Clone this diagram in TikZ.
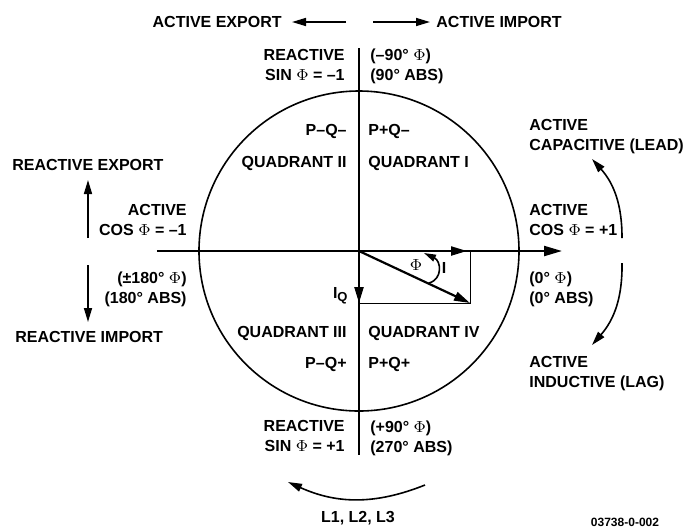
\documentclass[tikz,border=0pt]{standalone}
\usepackage{fontspec}
\setmainfont{Liberation Sans}
\usetikzlibrary{arrows.meta,positioning}

\begin{document}
\begin{tikzpicture}[
  x=0.5pt,y=0.5pt,
  lbl/.style={inner sep=0pt,font=\fontsize{8}{10}\selectfont\bfseries},
  lblr/.style={lbl,align=right,anchor=north east},
  lbll/.style={lbl,align=left,anchor=north west},
  axis/.style={line width=1.1pt},
  ring/.style={line width=0.8pt},
  box/.style={line width=0.5pt},
  vec/.style={line width=1.1pt,-{Triangle[length=8pt,width=4.5pt]}},
  dirarrow/.style={line width=0.8pt,-{Triangle[length=7pt,width=4pt]}}
]
\useasboundingbox (-359,-276) rectangle (325,251);
\coordinate (O) at (0,0);
\coordinate (axW) at (-202,0);
\coordinate (axE) at (203,0);
\coordinate (axN) at (0,203);
\coordinate (axS) at (0,-204);
\draw[ring] (O) circle[radius=160];
\draw[axis,-{Triangle[length=9pt,width=5pt]}] (axW) -- (axE);
\draw[ring] (axN) -- (axS);

\coordinate (P) at (111,0);
\coordinate (Q) at (0,-52);
\coordinate (S) at (111,-52);
\draw[box] (Q) -- (S) -- (P);
\draw[vec,shorten >=1.5pt] (O) -- (P);
\draw[vec] (O) -- (S);
\draw[vec] (O) -- (Q);
\coordinate (phiA) at (70,-32);
\coordinate (phiB) at (65,-2);
\draw[line width=0.8pt,-{Triangle[length=6pt,width=3.5pt]}]
  (phiA) .. controls (84,-28) and (82,-10) .. (phiB);
\node[lbl,font=\fontsize{8}{10}\selectfont] (phi) at (57,-14) {$\Phi$};
\node[lbl] (curr) at (85,-17) {I};
\node[lbl,anchor=east] (curq) at (-11,-45) {I\raisebox{-0.4ex}{\fontsize{6.5}{7}\selectfont Q}};

\node[lbl,anchor=east] (actexp) at (-77,229) {ACTIVE EXPORT};
\node[lbl,anchor=west] (actimp) at (77,229) {ACTIVE IMPORT};
\coordinate (expS) at (-13,229);
\coordinate (impS) at (14,229);
\draw[dirarrow,shorten >=5pt] (expS) -- (actexp);
\draw[dirarrow,shorten >=3pt] (impS) -- (actimp);

\node[lblr] (reacneg) at (-14,202) {REACTIVE\\SIN $\Phi$ = –1};
\node[lbll] (phineg) at (11,202) {(–90° $\Phi$)\\(90° ABS)};
\node[lblr] (pqmm) at (-12,127) {P–Q–};
\node[lbll] (pqpm) at (9,127) {P+Q–};
\node[lblr] (quadii) at (-12,95) {QUADRANT II};
\node[lbll] (quadi) at (9,95) {QUADRANT I};
\node[lblr] (quadiii) at (-12,-75) {QUADRANT III};
\node[lbll] (quadiv) at (9,-75) {QUADRANT IV};
\node[lblr] (pqmp) at (-12,-106) {P–Q+};
\node[lbll] (pqpp) at (9,-106) {P+Q+};
\node[lblr] (reacpos) at (-14,-169) {REACTIVE\\SIN $\Phi$ = +1};
\node[lbll] (phipos) at (11,-169) {(+90° $\Phi$)\\(270° ABS)};

\node[lbll] (reacexp) at (-347,92) {REACTIVE EXPORT};
\node[lblr] (cosneg) at (-172,47) {ACTIVE\\COS $\Phi$ = –1};
\node[lblr] (phi180) at (-172,-20) {(±180° $\Phi$)\\(180° ABS)};
\node[lbll] (reacimp) at (-344,-80) {REACTIVE IMPORT};
\coordinate (upS) at (-271,13);
\coordinate (upE) at (-271,71);
\coordinate (dnS) at (-271,-14);
\coordinate (dnE) at (-271,-71);
\draw[dirarrow] (upS) -- (upE);
\draw[dirarrow] (dnS) -- (dnE);

\node[lbll] (cap) at (170,132) {ACTIVE\\CAPACITIVE (LEAD)};
\node[lbll] (cospos) at (170,47) {ACTIVE\\COS $\Phi$ = +1};
\node[lbll] (phizero) at (170,-20) {(0° $\Phi$)\\(0° ABS)};
\node[lbll] (ind) at (170,-105) {ACTIVE\\INDUCTIVE (LAG)};
\coordinate (leadS) at (263,13);
\coordinate (leadE) at (233,92);
\coordinate (lagS) at (263,-12);
\coordinate (lagE) at (233,-94);
\draw[dirarrow] (leadS) to[bend right=21] (leadE);
\draw[dirarrow] (lagS) to[bend left=21] (lagE);

\coordinate (rotS) at (66,-234);
\coordinate (rotE) at (-71,-231);
\draw[dirarrow] (rotS) to[bend left=23] (rotE);
\node[lbl] (lines) at (-1,-267) {L1, L2, L3};
\node[lbl,font=\fontsize{6}{7}\selectfont\bfseries] (figno) at (266,-271) {03738-0-002};
\end{tikzpicture}
\end{document}
